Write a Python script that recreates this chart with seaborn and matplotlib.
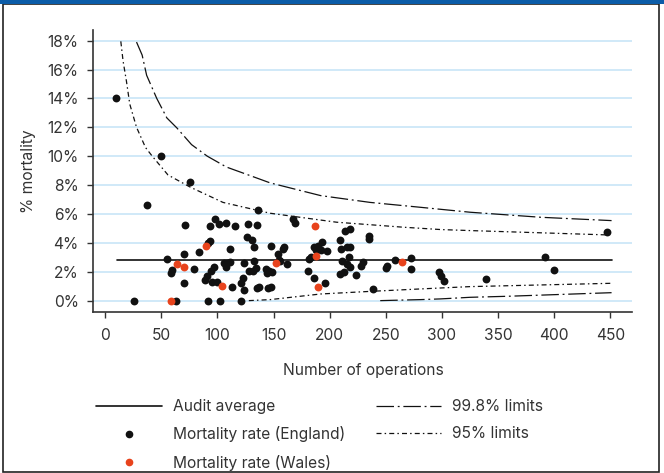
"""Funnel plot: mortality rate vs number of operations (England / Wales)."""
import matplotlib
matplotlib.use("Agg")
import matplotlib.pyplot as plt
from matplotlib.lines import Line2D
from matplotlib.patches import Rectangle
import seaborn as sns
import pandas as pd

sns.set_theme(style="ticks")
plt.rcParams["font.family"] = ["Inter", "DejaVu Sans"]

# --- data ------------------------------------------------------------------
england_n = [10, 50, 76, 37, 26, 71, 55, 70, 84, 60, 59, 79, 70, 63, 89, 91,
             136, 98, 101, 93, 108, 116, 127, 135, 167, 169, 93, 92, 111, 126,
             131, 133, 148, 159, 158, 154, 106, 109, 108, 111, 124, 133, 156,
             162, 97, 94, 128, 132, 134, 143, 146, 149, 144, 95, 100, 113, 123,
             121, 124, 135, 137, 145, 148, 92, 102, 121, 214, 218, 235, 235,
             209, 193, 186, 190, 188, 192, 198, 210, 215, 218, 183, 182, 217,
             211, 215, 218, 230, 228, 251, 250, 258, 181, 186, 196, 209, 213,
             223, 239, 272, 272, 297, 299, 302, 339, 447, 392, 400, 155]
england_pct = [14.0, 10.0, 8.2, 6.6, 0.0, 5.25, 2.88, 3.25, 3.37, 2.1, 1.91,
               2.17, 1.24, 0.0, 1.45, 1.7, 6.28, 5.64, 5.31, 5.17, 5.4, 5.15,
               5.33, 5.22, 5.64, 5.36, 4.15, 3.97, 3.55, 4.43, 4.2, 3.69, 3.78,
               3.74, 3.55, 3.23, 2.63, 2.63, 2.35, 2.69, 2.58, 2.72, 2.72, 2.53,
               2.35, 2.07, 2.07, 2.03, 2.24, 2.19, 2.05, 1.98, 1.93, 1.31, 1.31,
               0.92, 1.54, 1.24, 0.73, 0.85, 0.92, 0.85, 0.96, 0.0, 0.0, 0.0,
               4.85, 4.94, 4.48, 4.25, 4.2, 4.08, 3.74, 3.78, 3.51, 3.51, 3.46,
               3.58, 3.74, 3.74, 3.04, 2.86, 3.04, 2.74, 2.53, 2.3, 2.69, 2.42,
               2.4, 2.24, 2.81, 2.05, 1.54, 1.19, 1.84, 2.0, 1.77, 0.78, 2.93,
               2.17, 2.0, 1.7, 1.35, 1.47, 4.74, 3.0, 2.12, 2.81]

wales_n = [59, 64, 70, 90, 104, 152, 187, 188, 190, 264]
wales_pct = [0.0, 2.53, 2.33, 3.76, 0.98, 2.63, 5.17, 3.09, 0.92, 2.68]

audit_n = [11, 451]
audit_pct = [2.8, 2.8]

upper998_n = [28, 33, 37, 46, 55, 64, 77, 91, 108, 129, 147, 192, 236, 281,
              325, 388, 451]
upper998_pct = [17.9, 17.0, 15.6, 14.0, 12.65, 11.95, 10.8, 10.0, 9.25, 8.66,
                8.15, 7.27, 6.8, 6.46, 6.12, 5.77, 5.54]
lower998_n = [245, 281, 299, 325, 358, 451]
lower998_pct = [0.0, 0.07, 0.12, 0.23, 0.3, 0.55]

upper95_n = [14, 16, 19, 22, 28, 36, 42, 56, 76, 105, 147, 206, 266, 299,
             325, 447]
upper95_pct = [17.95, 16.6, 15.2, 13.6, 12.0, 10.6, 10.0, 8.7, 7.85, 6.8,
               6.05, 5.43, 5.08, 4.92, 4.85, 4.55]
lower95_n = [128, 147, 192, 236, 281, 325, 451]
lower95_pct = [0.0, 0.07, 0.46, 0.64, 0.81, 0.97, 1.2]

YTICKS = list(range(0, 19, 2))
XTICKS = list(range(0, 451, 50))

RED = "#E8431C"
INK = "#111111"
TXT = "#333333"
GRID = "#C8E5F7"
DASH998 = (0, (14, 3, 1.5, 3))
DASH95 = (0, (4, 2.5, 1.2, 2.5))
FS = 11.2

fig = plt.figure(figsize=(6.64, 4.73), dpi=100)
ax = fig.add_axes([0.1405, 0.340, 0.812, 0.597])

for v in YTICKS:
    ax.axhline(v, color=GRID, lw=1.2, zorder=0)

def curve(xs, ys, ls, lw=0.9):
    sns.lineplot(x=xs, y=ys, ax=ax, color=INK, lw=lw, linestyle=ls,
                 sort=False, estimator=None, zorder=2)

curve(audit_n, audit_pct, "-", lw=1.2)
curve(upper998_n, upper998_pct, DASH998)
curve(lower998_n, lower998_pct, DASH998)
curve(upper95_n, upper95_pct, DASH95)
curve(lower95_n, lower95_pct, DASH95)

eng = pd.DataFrame({"n": england_n, "pct": england_pct})
wal = pd.DataFrame({"n": wales_n, "pct": wales_pct})
sns.scatterplot(data=eng, x="n", y="pct", ax=ax, color=INK, s=32,
                linewidth=0, zorder=3)
sns.scatterplot(data=wal, x="n", y="pct", ax=ax, color=RED, s=32,
                linewidth=0, zorder=4)

ax.set_xlim(-10.5, 469.6)
ax.set_ylim(-0.8, 18.75)
ax.set_xticks(XTICKS)
ax.set_yticks(YTICKS)
ax.set_yticklabels([f"{v}%" for v in YTICKS])
ax.tick_params(colors=TXT, labelsize=FS, length=4.5, width=1)
ax.tick_params(axis="x", pad=7)
ax.tick_params(axis="y", pad=6)
ax.set_xlabel("Number of operations", fontsize=FS, color=TXT, labelpad=14)
ax.set_ylabel("% mortality", fontsize=FS, color=TXT, labelpad=8)
sns.despine(ax=ax)
for s in ("left", "bottom"):
    ax.spines[s].set_color(TXT)
    ax.spines[s].set_linewidth(1.2)

handles = [
    Line2D([], [], color=INK, lw=1.2),
    Line2D([], [], color=INK, lw=0, marker="o", markersize=4.5),
    Line2D([], [], color=RED, lw=0, marker="o", markersize=4.5),
    Line2D([], [], color=INK, lw=0.9, linestyle=DASH998),
    Line2D([], [], color=INK, lw=0.9, linestyle=DASH95),
]
labels = ["Audit average", "Mortality rate (England)",
          "Mortality rate (Wales)", "99.8% limits", "95% limits"]
fig.legend(handles, labels, ncol=2, frameon=False, fontsize=FS,
           loc="upper left", bbox_to_anchor=(0.145, 1 - 399 / 473),
           borderpad=0, borderaxespad=0, handlelength=4.2,
           handletextpad=0.7, columnspacing=2.0, labelspacing=0.8,
           labelcolor=TXT)

# outer frame with blue band on top
fig.patches.append(Rectangle((3 / 664, 1.5 / 473), 656 / 664, 467 / 473,
                             transform=fig.transFigure, fill=False,
                             edgecolor="#222222", lw=1.2))
fig.patches.append(Rectangle((0, 1 - 4 / 473), 1, 4 / 473,
                             transform=fig.transFigure, color="#0B5CA8",
                             lw=0))

fig.savefig("out.png", dpi=100)
